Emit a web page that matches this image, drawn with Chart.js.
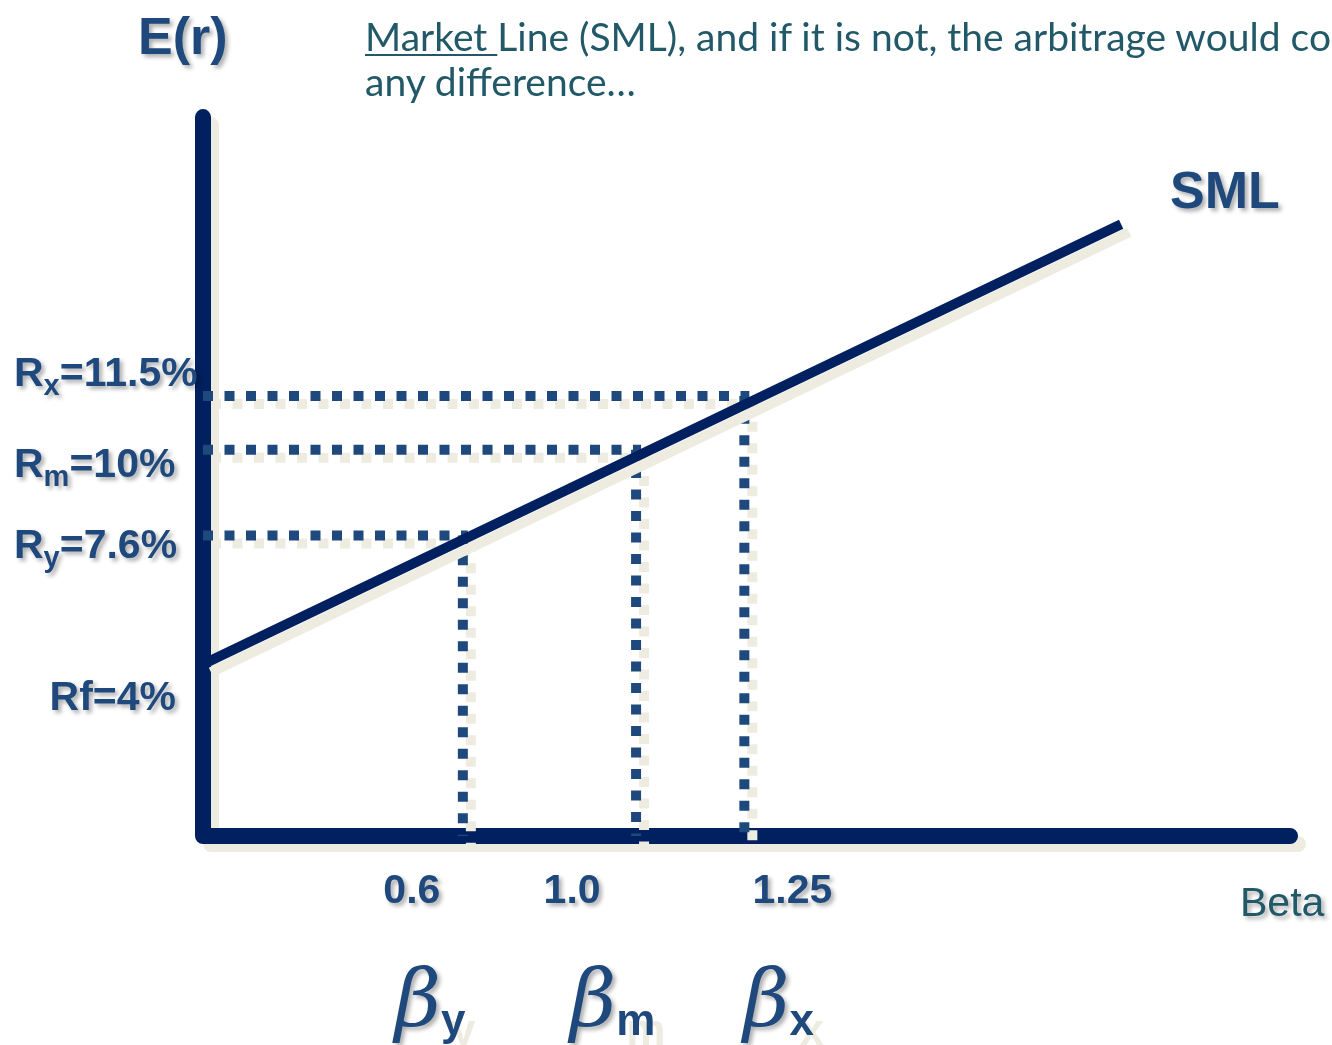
<!DOCTYPE html>
<html>
<head>
<meta charset="utf-8">
<title>Security Market Line</title>
<script src="https://cdn.jsdelivr.net/npm/chart.js@4.4.1/dist/chart.umd.min.js"></script>
<style>
    html, body { margin: 0; padding: 0; background: #fff; overflow: hidden; }
    #wrap { position: relative; width: 1332px; height: 1045px; overflow: hidden; }
    #sml-chart { position: absolute; left: 0; top: 0; }
    .note {
        position: absolute; left: 365px; top: 14px;
        font-family: Lato, sans-serif; font-size: 39px; line-height: 45px;
        color: #215968; white-space: nowrap;
    }
    .note u { text-decoration-thickness: 2px; text-underline-offset: 3px; }
</style>
</head>
<body>
<div id="wrap">
    <canvas id="sml-chart" width="1332" height="1045"></canvas>
    <div class="note"><u>Market </u>Line (SML), and if it is not, the arbitrage would correct<br>any difference…</div>
</div>
<script>
// Security Market Line - expected return against beta, three assets marked off

const riskFree = 4;                      // Rf, %
const assetNames = ['x', 'm', 'y'];
const assetBetas = [1.25, 1.0, 0.6];
const assetReturns = [11.5, 10, 7.6];    // %
const betaTickLabels = ['1.25', '1.0', '0.6'];
const returnTickLabels = ['11.5%', '10%', '7.6%'];

// SML from Rf out to where the line stops
const smlBeta = [0, 2.12];
const smlReturn = [riskFree, 16.3];

// plot range and axis frame
const betaMin = 0, betaMax = 2.6;
const returnMin = -0.8, returnMax = 20;
const axisBetaEnd = 2.51;
const axisReturnTop = 19.3;

const NAVY = '#002060';
const BLUE = '#1F497D';
const TEAL = '#215968';
const TAN = '#EEECE1';
const SANS = '"Liberation Sans", Arial, sans-serif';

// label placement (px) relative to the value it names
const returnLabelShift = { x: -10, m: 27, y: 22 };
const betaLabelShift = { x: 48, m: -64, y: -51 };
const symbolShift = { x: -1, m: -66, y: -68 };

const toPoints = (xs, ys) => xs.map((x, i) => ({ x: x, y: ys[i] }));

const lineDefaults = { showLine: true, pointRadius: 0, pointHoverRadius: 0, fill: false, tension: 0, clip: false };

const datasets = [];
datasets.push(Object.assign({
    label: 'SML',
    data: toPoints(smlBeta, smlReturn),
    borderColor: NAVY,
    borderWidth: 10,
    borderCapStyle: 'butt'
}, lineDefaults));

// dotted guides: across from the E(r) axis, then down to the beta axis
assetNames.forEach((name, i) => {
    datasets.push(Object.assign({
        label: 'R' + name,
        data: [
            { x: betaMin, y: assetReturns[i] },
            { x: assetBetas[i], y: assetReturns[i] },
            { x: assetBetas[i], y: returnMin }
        ],
        borderColor: BLUE,
        borderWidth: 10,
        borderDash: [10, 11.5],
        borderCapStyle: 'butt',
        borderJoinStyle: 'miter'
    }, lineDefaults));
});

datasets.push(Object.assign({
    label: 'axes',
    data: [
        { x: 0, y: axisReturnTop },
        { x: 0, y: returnMin },
        { x: axisBetaEnd, y: returnMin }
    ],
    borderColor: NAVY,
    borderWidth: 16,
    borderCapStyle: 'round',
    borderJoinStyle: 'round'
}, lineDefaults));

// flat tan shadow under every line
const tanShadow = {
    id: 'tanShadow',
    beforeDatasetsDraw(chart) {
        const ctx = chart.ctx;
        ctx.save();
        ctx.shadowColor = TAN;
        ctx.shadowOffsetX = 8;
        ctx.shadowOffsetY = 8;
        ctx.shadowBlur = 0;
    },
    afterDatasetsDraw(chart) {
        chart.ctx.restore();
    }
};

// draw a row of text runs (main text + subscripts)
function drawRuns(ctx, runs, x, y, align) {
    let total = 0;
    runs.forEach(r => {
        ctx.font = r.font;
        r.w = ctx.measureText(r.text).width;
        total += r.w;
    });
    let cx = align === 'right' ? x - total : (align === 'center' ? x - total / 2 : x);
    runs.forEach(r => {
        ctx.save();
        ctx.font = r.font;
        ctx.fillStyle = r.color || BLUE;
        if (r.ghost) {
            ctx.shadowColor = TAN;
            ctx.shadowOffsetX = 10;
            ctx.shadowOffsetY = 10;
            ctx.shadowBlur = 0;
        }
        ctx.fillText(r.text, cx, y + (r.dy || 0));
        ctx.restore();
        cx += r.w;
    });
}

const diagramLabels = {
    id: 'diagramLabels',
    afterDatasetsDraw(chart) {
        const ctx = chart.ctx;
        const xs = chart.scales.x;
        const ys = chart.scales.y;
        const main = 'bold 41px ' + SANS;
        const sub = 'bold 29px ' + SANS;
        const floorY = ys.getPixelForValue(returnMin);

        ctx.save();
        ctx.textBaseline = 'alphabetic';
        ctx.textAlign = 'left';
        ctx.shadowColor = 'rgba(0, 0, 0, 0.32)';
        ctx.shadowBlur = 4;
        ctx.shadowOffsetX = 3;
        ctx.shadowOffsetY = 3;

        // axis titles
        drawRuns(ctx, [{ text: 'E(r)', font: 'bold 52px ' + SANS }],
            xs.getPixelForValue(0) - 65, ys.getPixelForValue(axisReturnTop) - 63, 'left');
        drawRuns(ctx, [{ text: 'Beta', font: '41px ' + SANS, color: TEAL }],
            xs.getPixelForValue(axisBetaEnd) - 50, floorY + 80, 'left');

        // line name at the end of the SML
        const last = smlBeta.length - 1;
        drawRuns(ctx, [{ text: 'SML', font: 'bold 52px ' + SANS }],
            xs.getPixelForValue(smlBeta[last]) + 49, ys.getPixelForValue(smlReturn[last]) - 16, 'left');

        // returns on the E(r) side
        assetNames.forEach((name, i) => {
            const y = ys.getPixelForValue(assetReturns[i]) + returnLabelShift[name];
            drawRuns(ctx, [
                { text: 'R', font: main },
                { text: name, font: sub, dy: 9 },
                { text: '=' + returnTickLabels[i], font: main }
            ], 14, y, 'left');
        });
        drawRuns(ctx, [{ text: 'Rf=' + riskFree + '%', font: main }],
            176, ys.getPixelForValue(riskFree) + 46, 'right');

        // betas under the beta axis
        assetNames.forEach((name, i) => {
            const x = xs.getPixelForValue(assetBetas[i]);
            drawRuns(ctx, [{ text: betaTickLabels[i], font: main }],
                x + betaLabelShift[name], floorY + 67, 'center');
            drawRuns(ctx, [
                { text: 'β', font: 'italic 80px "DejaVu Serif", serif' },
                { text: name, font: 'bold 44px ' + SANS, dy: 9, ghost: true }
            ], x + symbolShift[name], floorY + 190, 'left');
        });

        ctx.restore();
    }
};

const ctx = document.getElementById('sml-chart');
new Chart(ctx, {
    type: 'scatter',
    data: { datasets: datasets },
    options: {
        responsive: false,
        animation: false,
        events: [],
        devicePixelRatio: 1,
        layout: { padding: { left: 203, right: 3, top: 92, bottom: 209 } },
        plugins: {
            legend: { display: false },
            tooltip: { enabled: false },
            title: { display: false }
        },
        scales: {
            x: { type: 'linear', min: betaMin, max: betaMax, display: false },
            y: { type: 'linear', min: returnMin, max: returnMax, display: false }
        }
    },
    plugins: [tanShadow, diagramLabels]
});
</script>
</body>
</html>
